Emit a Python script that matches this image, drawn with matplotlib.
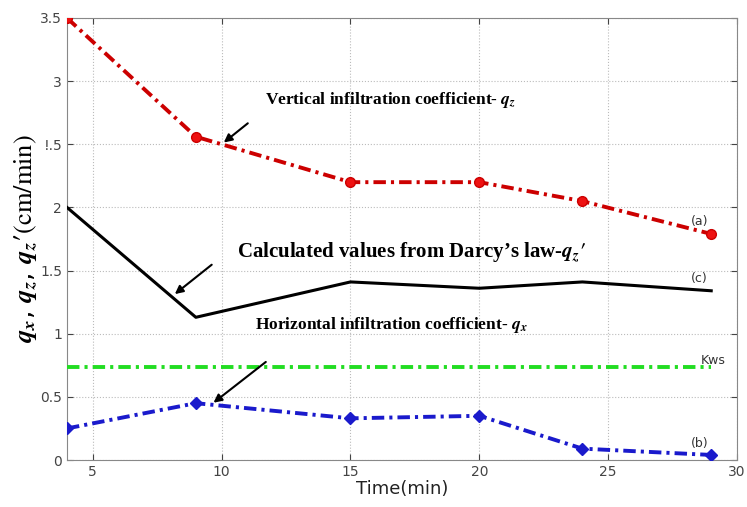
import matplotlib
matplotlib.use("Agg")
import matplotlib.pyplot as plt

plt.rcParams["mathtext.fontset"] = "stix"

time = [4, 9, 15, 20, 24, 29]
q_z = [3.5, 2.56, 2.2, 2.2, 2.05, 1.79]
q_z_darcy = [2.0, 1.13, 1.41, 1.36, 1.41, 1.34]
q_x = [0.25, 0.45, 0.33, 0.35, 0.09, 0.04]
kws = 0.74

xticks = [5, 10, 15, 20, 25, 30]
yticks = [0, 0.5, 1, 1.5, 2, 2.5, 3, 3.5]
yticklabels = ["0", "0.5", "1", "1.5", "2", "!.5", "3", "3.5"]

fig = plt.figure(figsize=(7.47, 5.07), dpi=100)
ax = fig.add_axes([0.0897, 0.0927, 0.8969, 0.8718])

dashdot = (0, (3.2, 1.3, 0.8, 1.3))
ax.plot(time, q_z, color="#cc0000", lw=2.8, ls=dashdot,
        marker="o", ms=7, mfc="#ee1111", mec="#cc0000", zorder=4)
ax.plot(time, q_z_darcy, color="black", lw=2.2, zorder=3)
ax.plot([time[0], time[-1]], [kws, kws], color="#22dd22", lw=2.8,
        ls=dashdot, zorder=3)
ax.plot(time, q_x, color="#1a1acc", lw=2.8, ls=dashdot,
        marker="D", ms=6, mfc="#1a1acc", mec="#1a1acc", zorder=4)

ax.set_xlim(4, 30)
ax.set_ylim(0, 3.5)
ax.set_xticks(xticks)
ax.set_yticks(yticks)
ax.set_yticklabels(yticklabels)
ax.tick_params(direction="in", top=True, right=True, labelsize=10,
               colors="#444444", length=4)
for s in ax.spines.values():
    s.set_color("#888888")
ax.grid(True, ls=":", color="#bbbbbb", lw=0.8)

ax.set_xlabel("Time(min)", fontsize=13, color="#222222", labelpad=1)
ax.set_ylabel(r"$\mathbfit{q_x}$, $\mathbfit{q_z}$, $\mathbfit{q_z}$$\mathbf{\prime}$"
              r"$\mathrm{(cm/min)}$", fontsize=19, labelpad=0)

serif = "Liberation Serif"
ax.text(11.7, 2.85, r"Vertical infiltration coefficient- $\mathbfit{q_z}$",
        family=serif, weight="bold", fontsize=12.5, va="center", zorder=5)
ax.text(10.6, 1.65, r"Calculated values from Darcy’s law-$\mathbfit{q_z}$$\mathbf{\prime}$",
        family=serif, weight="bold", fontsize=15, va="center", zorder=5)
ax.text(11.3, 1.07, r"Horizontal infiltration coefficient- $\mathbfit{q_x}$",
        family=serif, weight="bold", fontsize=12.5, va="center", zorder=5)

arrow = dict(arrowstyle="-|>", color="black", lw=1.5, mutation_scale=12)
ax.annotate("", xy=(10.0, 2.5), xytext=(11.1, 2.68), arrowprops=arrow)
ax.annotate("", xy=(8.1, 1.3), xytext=(9.7, 1.56), arrowprops=arrow)
ax.annotate("", xy=(9.6, 0.44), xytext=(11.8, 0.79), arrowprops=arrow)

ax.text(28.2, 1.86, "(a)", fontsize=9, color="#333333")
ax.text(28.2, 1.41, "(c)", fontsize=9, color="#333333")
ax.text(28.6, 0.76, "Kws", fontsize=9, color="#333333")
ax.text(28.2, 0.10, "(b)", fontsize=9, color="#333333")

fig.savefig("out.png", dpi=100)
